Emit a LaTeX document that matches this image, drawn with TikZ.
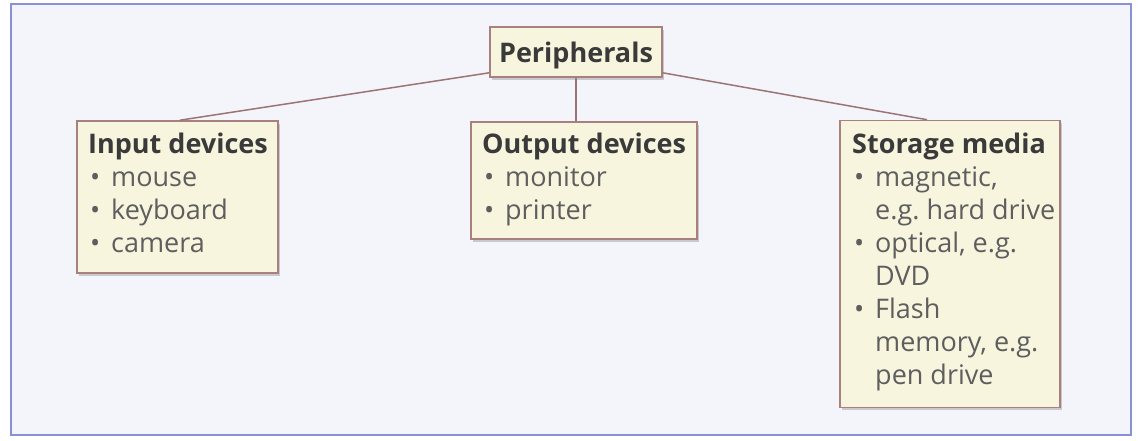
\documentclass[tikz,border=0pt]{standalone}
\usepackage{fontspec}
\setmainfont{Open Sans}
\usetikzlibrary{shadows}
\definecolor{framec}{HTML}{8A90D8}
\definecolor{bgc}{HTML}{F4F5FA}
\definecolor{boxfill}{HTML}{F8F5DF}
\definecolor{boxline}{HTML}{A88080}
\definecolor{linkc}{HTML}{9B7575}
\definecolor{titlec}{HTML}{3A3A3A}
\definecolor{itemc}{HTML}{5E5E5E}
\newcommand{\itembul}{\makebox[23pt][l]{\hspace{2pt}•}}
\newcommand{\itemind}{\hspace*{23pt}}
\frenchspacing
\begin{document}
\begin{tikzpicture}[x=1pt,y=-1pt,
  box/.style={draw=boxline, line width=1.6pt, fill=boxfill, inner sep=0pt,
    drop shadow={shadow xshift=1.5pt, shadow yshift=-2.5pt, opacity=0.3, fill=black!60}},
  txt/.style={anchor=base west, inner sep=0pt, text=itemc, font=\fontsize{27}{33}\selectfont},
  link/.style={draw=linkc, line width=1.5pt}]
\useasboundingbox (0,0) rectangle (1140,440);
\draw[framec, line width=1.2pt, fill=bgc] (11,4) rectangle (1131,435);
% boxes
\node[box, minimum width=172pt, minimum height=50pt] (per) at (576,52) {};
\node[box, minimum width=201pt, minimum height=152pt] (inp) at (177.5,197) {};
\node[box, minimum width=226pt, minimum height=117pt] (out) at (584,180.5) {};
\node[box, minimum width=220pt, minimum height=287pt] (sto) at (950,264) {};
% texts
\node[anchor=base, inner sep=0pt, text=titlec, font=\fontsize{27}{33}\selectfont\bfseries] (perT) at (576,62) {Peripherals};
\node[txt] (inpT) at (88,153) {\parbox[t]{200pt}{\leavevmode{\bfseries\color{titlec}Input devices}\\
  \itembul mouse\\ \itembul keyboard\\ \itembul camera}};
\node[txt] (outT) at (482,153) {\parbox[t]{220pt}{\leavevmode{\bfseries\color{titlec}Output devices}\\
  \itembul monitor\\ \itembul printer}};
\node[txt] (stoT) at (852,153) {\parbox[t]{220pt}{\leavevmode{\bfseries\color{titlec}Storage media}\\
  \itembul magnetic,\\ \itemind e.g. hard drive\\ \itembul optical, e.g.\\ \itemind DVD\\
  \itembul Flash\\ \itemind memory, e.g.\\ \itemind pen drive}};
% connectors
\path[link] ([yshift=5pt]per.south west) -- ([xshift=2.5pt]inp.north);
\path[link] (per.south) -- (per.south |- out.north);
\path[link] ([yshift=5pt]per.south east) -- ([xshift=-23pt]sto.north);
\end{tikzpicture}
\end{document}
